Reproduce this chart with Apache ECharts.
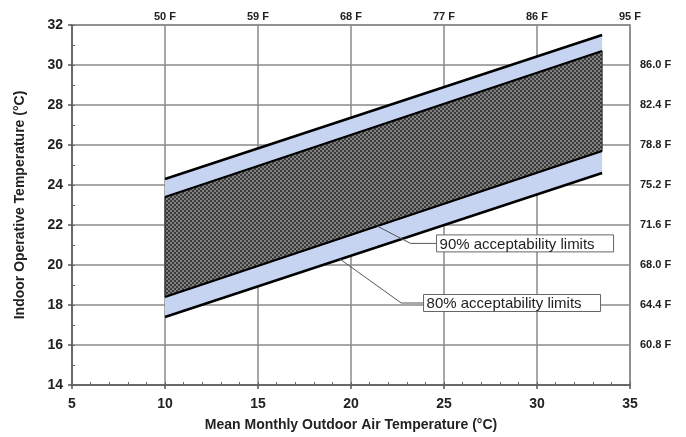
<!DOCTYPE html>
<html><head><meta charset="utf-8">
<script src="https://cdn.jsdelivr.net/npm/echarts@6/dist/echarts.min.js"></script>
<style>html,body{margin:0;padding:0;background:#fff}#c{width:686px;height:437px}</style>
</head><body><div id="c"></div>
<script>
// ---- data ----
const outdoorX = [10, 33.5];
const upper80 = [24.3, 31.5];
const lower80 = [17.4, 24.6];
const upper90 = [23.4, 30.7];
const lower90 = [18.4, 25.7];
const topTickValues = [10, 15, 20, 25, 30, 35];
const topTickLabels = ['50 F', '59 F', '68 F', '77 F', '86 F', '95 F'];
const rightTickValues = [16, 18, 20, 22, 24, 26, 28, 30];
const rightTickLabels = ['60.8 F', '64.4 F', '68.0 F', '71.6 F', '75.2 F', '78.8 F', '82.4 F', '86.0 F'];
const annoText = ['90% acceptability limits', '80% acceptability limits'];
const annoStart = [[21.4, 21.95], [19.4, 20.3]];
const annoElbow = [[23.2, 21.08], [22.7, 18.1]];
const annoBox = [[24.6, 21.08], [23.9, 18.1]];

// ---- helpers ----
function lookup(vals, labels) {
  return function (v) { const i = vals.indexOf(Math.round(v * 10) / 10); return i >= 0 ? labels[i] : ''; };
}
function pts(xs, ys) { return xs.map((x, i) => [x, ys[i]]); }
function segments(xs, lo, hi) {
  const out = [];
  for (let i = 0; i < xs.length - 1; i++) out.push([xs[i], lo[i], hi[i], xs[i + 1], lo[i + 1], hi[i + 1]]);
  return out;
}
const pc = document.createElement('canvas');
pc.width = 4; pc.height = 4;
const g = pc.getContext('2d');
g.fillStyle = '#3a3a3a'; g.fillRect(0, 0, 4, 4);
g.fillStyle = '#808080'; g.fillRect(0, 0, 2, 2); g.fillRect(2, 2, 2, 2);
const hatch = { image: pc, repeat: 'repeat' };

function bandRenderer(fill, stroke) {
  return function (params, api) {
    const a = api.coord([api.value(0), api.value(1)]);
    const b = api.coord([api.value(3), api.value(4)]);
    const c = api.coord([api.value(3), api.value(5)]);
    const d = api.coord([api.value(0), api.value(2)]);
    return { type: 'polygon', shape: { points: [a, b, c, d] },
      style: { fill: fill, stroke: stroke || null, lineWidth: stroke ? 1 : 0 } };
  };
}

const axisTitle = { fontFamily: 'Liberation Sans, Arial', fontWeight: 'bold', fontSize: 14, color: '#222' };
const tickLbl = { fontFamily: 'Liberation Sans, Arial', fontWeight: 'bold', fontSize: 14, color: '#222' };
const smallLbl = { fontFamily: 'Liberation Sans, Arial', fontWeight: 'bold', fontSize: 11, color: '#222' };
const gridLine = { show: true, lineStyle: { color: '#8a8a8a', width: 1.5 } };

const chart = echarts.init(document.getElementById('c'), null, { renderer: 'canvas' });
chart.setOption({
  animation: false,
  grid: { left: 72, right: 56, top: 25, bottom: 48 },
  xAxis: [
    { type: 'value', min: 5, max: 35, interval: 5, position: 'bottom',
      name: 'Mean Monthly Outdoor Air Temperature (°C)', nameLocation: 'middle', nameGap: 33, nameTextStyle: axisTitle,
      axisLine: { lineStyle: { color: '#555', width: 1.5 } },
      axisTick: { show: true, length: 4, lineStyle: { color: '#555', width: 1.5 } },
      axisLabel: Object.assign({ margin: 12 }, tickLbl), splitLine: gridLine },
    { type: 'value', min: 5, max: 35, interval: 5, position: 'top',
      axisLine: { show: true, lineStyle: { color: '#8a8a8a', width: 1.5 } }, axisTick: { show: false },
      axisLabel: Object.assign({ margin: 3, formatter: lookup(topTickValues, topTickLabels) }, smallLbl), splitLine: { show: false } },
    { type: 'value', min: 5, max: 35, interval: 1, position: 'bottom',
      axisLine: { show: false }, axisLabel: { show: false }, splitLine: { show: false },
      axisTick: { show: true, inside: true, length: 3, lineStyle: { color: '#666', width: 1 } } }
  ],
  yAxis: [
    { type: 'value', min: 14, max: 32, interval: 2, position: 'left',
      name: 'Indoor Operative Temperature (°C)', nameLocation: 'middle', nameGap: 45, nameTextStyle: axisTitle,
      axisLine: { show: true, lineStyle: { color: '#555', width: 1.5 } },
      axisTick: { show: true, length: 4, lineStyle: { color: '#555', width: 1.5 } },
      axisLabel: Object.assign({ margin: 9 }, tickLbl), splitLine: gridLine },
    { type: 'value', min: 14, max: 32, interval: 2, position: 'right',
      axisLine: { show: true, lineStyle: { color: '#8a8a8a', width: 1.5 } }, axisTick: { show: false },
      axisLabel: Object.assign({ margin: 10, formatter: lookup(rightTickValues, rightTickLabels) }, smallLbl), splitLine: { show: false } },
    { type: 'value', min: 14, max: 32, interval: 1, position: 'left',
      axisLine: { show: false }, axisLabel: { show: false }, splitLine: { show: false },
      axisTick: { show: true, inside: true, length: 3, lineStyle: { color: '#666', width: 1 } } }
  ],
  series: [
    { type: 'custom', name: '80% band', z: 2, data: segments(outdoorX, lower80, upper80),
      renderItem: bandRenderer('#c6d4f1') },
    { type: 'custom', name: '90% band', z: 3, data: segments(outdoorX, lower90, upper90),
      renderItem: bandRenderer(hatch, '#222') },
    { type: 'line', name: '80% upper', z: 4, data: pts(outdoorX, upper80), symbol: 'none', lineStyle: { color: '#000', width: 2.5 } },
    { type: 'line', name: '80% lower', z: 4, data: pts(outdoorX, lower80), symbol: 'none', lineStyle: { color: '#000', width: 2.5 } },
    { type: 'line', name: '90% upper', z: 4, data: pts(outdoorX, upper90), symbol: 'none', lineStyle: { color: '#000', width: 2 } },
    { type: 'line', name: '90% lower', z: 4, data: pts(outdoorX, lower90), symbol: 'none', lineStyle: { color: '#000', width: 2 } },
    { type: 'custom', name: 'annotations', z: 6,
      data: annoText.map((t, i) => [annoStart[i][0], annoStart[i][1], annoElbow[i][0], annoElbow[i][1], annoBox[i][0], annoBox[i][1]]),
      renderItem: function (params, api) {
        const i = params.dataIndex;
        const s = api.coord([api.value(0), api.value(1)]);
        const e = api.coord([api.value(2), api.value(3)]);
        const b = api.coord([api.value(4), api.value(5)]);
        return { type: 'group', children: [
          { type: 'polyline', shape: { points: [s, e, [b[0], e[1]]] }, style: { stroke: '#555', lineWidth: 1, fill: null } },
          { type: 'rect', shape: { x: b[0], y: b[1] - 8.5, width: 177, height: 17 }, style: { fill: '#fff', stroke: '#666', lineWidth: 1 } },
          { type: 'text', x: b[0] + 3, y: b[1] + 1, style: { text: annoText[i], fontFamily: 'Liberation Sans, Arial', fontSize: 15,
            fill: '#222', verticalAlign: 'middle', align: 'left' } }
        ] };
      } }
  ]
});
</script></body></html>
